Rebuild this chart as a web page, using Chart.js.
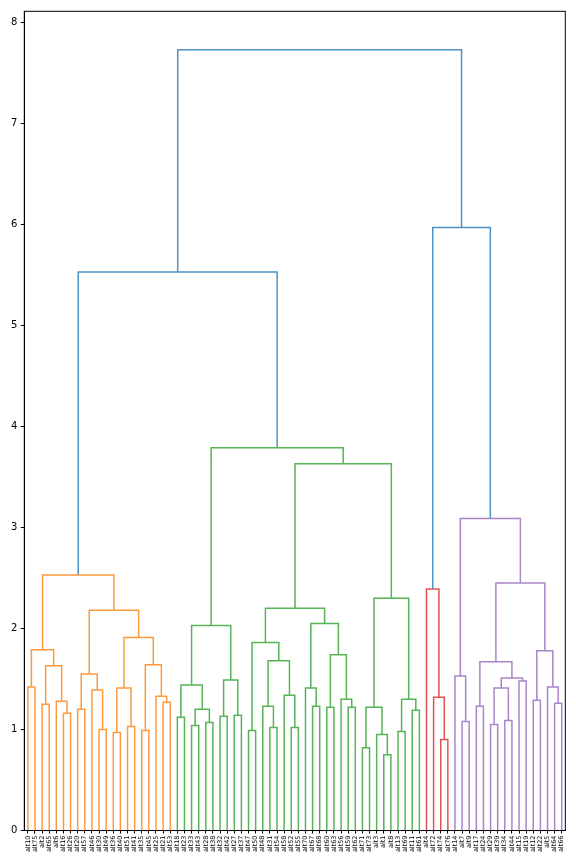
<!DOCTYPE html>
<html>
<head>
<meta charset="utf-8">
<script src="https://cdn.jsdelivr.net/npm/chart.js"></script>
<style>
  body { margin: 0; background: #fff; }
  #wrap { width: 576px; height: 864px; }
</style>
</head>
<body>
<div id="wrap"><canvas id="dendro"></canvas></div>
<script>
// leaves in the order they appear along the x axis
const leafLabels = [
    'alt10', 'alt75', 'alt2', 'alt65', 'alt6', 'alt16', 'alt26', 'alt20', 'alt57', 'alt46',
    'alt30', 'alt49', 'alt36', 'alt40', 'alt51', 'alt41', 'alt35', 'alt45', 'alt25', 'alt21',
    'alt53', 'alt18', 'alt23', 'alt33', 'alt43', 'alt28', 'alt38', 'alt32', 'alt42', 'alt27',
    'alt37', 'alt47', 'alt50', 'alt48', 'alt31', 'alt54', 'alt58', 'alt52', 'alt55', 'alt70',
    'alt67', 'alt68', 'alt60', 'alt63', 'alt56', 'alt59', 'alt62', 'alt71', 'alt73', 'alt3',
    'alt1', 'alt8', 'alt13', 'alt69', 'alt11', 'alt61', 'alt4', 'alt72', 'alt74', 'alt76',
    'alt14', 'alt7', 'alt9', 'alt17', 'alt24', 'alt29', 'alt39', 'alt34', 'alt44', 'alt15',
    'alt19', 'alt12', 'alt22', 'alt5', 'alt64', 'alt66'
];

// merges (leaves are 0..75, merge k makes node 76 + k)
const linkLeft = [
    0, 2, 5, 4, 77, 76, 7, 10, 9, 82, 12, 14, 86, 16, 19, 18, 89, 88, 85, 81,
    21, 23, 25, 97, 96, 27, 29, 101, 100, 31, 34, 33, 37, 36, 107, 105, 40, 39, 42, 45,
    44, 114, 113, 111, 47, 50, 49, 120, 52, 54, 124, 123, 119, 104,
    58, 57, 56,
    61, 60, 63, 65, 67, 136, 69, 138, 135, 71, 74, 73, 142, 141, 134,
    95, 132, 148
];
const linkRight = [
    1, 3, 6, 78, 79, 80, 8, 11, 83, 84, 13, 15, 87, 17, 20, 90, 91, 92, 93, 94,
    22, 24, 26, 98, 99, 28, 30, 102, 103, 32, 35, 106, 38, 108, 109, 110, 41, 112, 43, 46,
    115, 116, 117, 118, 48, 51, 121, 122, 53, 55, 125, 126, 127, 128,
    59, 130, 131,
    62, 133, 64, 66, 68, 137, 70, 139, 140, 72, 75, 143, 144, 145, 146,
    129, 147, 149
];
const linkHeight = [
    1.42, 1.25, 1.16, 1.28, 1.63, 1.79, 1.20, 1.00, 1.39, 1.55, 0.97, 1.03, 1.41, 0.99, 1.27, 1.33, 1.64, 1.91, 2.18, 2.53,
    1.12, 1.04, 1.07, 1.20, 1.44, 1.13, 1.14, 1.49, 2.03, 0.99, 1.02, 1.23, 1.02, 1.34, 1.68, 1.86, 1.23, 1.41, 1.22, 1.22,
    1.30, 1.74, 2.05, 2.20, 0.82, 0.75, 0.95, 1.22, 0.98, 1.19, 1.30, 2.30, 3.63, 3.79,
    0.90, 1.32, 2.39,
    1.08, 1.53, 1.23, 1.05, 1.09, 1.41, 1.48, 1.51, 1.67, 1.29, 1.26, 1.42, 1.78, 2.45, 3.09,
    5.53, 5.97, 7.73
];

const yTicks = [0, 1, 2, 3, 4, 5, 6, 7, 8];

const aboveColor = '#4c92c3';
const clusterColors = ['#ff993e', '#56b356', '#de5253', '#a985ca'];
const colorThreshold = 0.7 * Math.max(...linkHeight);

const n = leafLabels.length;
const nodeX = leafLabels.map((_, i) => 5 + 10 * i);
const nodeY = leafLabels.map(() => 0);
linkHeight.forEach((h, k) => {
    nodeX.push((nodeX[linkLeft[k]] + nodeX[linkRight[k]]) / 2);
    nodeY.push(h);
});

// colour each link: above threshold blue, below it by cluster, left to right
const linkColor = [];
let nextColor = 0;
function paint(node, color) {
    if (node < n) return;
    const k = node - n;
    let c = color;
    if (!c && linkHeight[k] < colorThreshold) c = clusterColors[nextColor++ % clusterColors.length];
    linkColor[k] = c || aboveColor;
    paint(linkLeft[k], c);
    paint(linkRight[k], c);
}
paint(n + linkHeight.length - 1, null);

const datasets = linkHeight.map((h, k) => {
    const a = linkLeft[k], b = linkRight[k];
    return {
        data: [
            { x: nodeX[a], y: nodeY[a] },
            { x: nodeX[a], y: h },
            { x: nodeX[b], y: h },
            { x: nodeX[b], y: nodeY[b] }
        ],
        borderColor: linkColor[k],
        borderWidth: 1.5,
        pointRadius: 0,
        fill: false,
        tension: 0,
        borderJoinStyle: 'miter'
    };
});

const frame = {
    id: 'frame',
    afterDraw(chart) {
        const { ctx, chartArea: a } = chart;
        ctx.save();
        ctx.strokeStyle = '#000';
        ctx.lineWidth = 1;
        ctx.strokeRect(a.left, a.top, a.right - a.left, a.bottom - a.top);
        ctx.restore();
    }
};

new Chart(document.getElementById('dendro').getContext('2d'), {
    type: 'line',
    data: { datasets },
    options: {
        responsive: true,
        maintainAspectRatio: false,
        animation: false,
        layout: { padding: { top: 11.3, right: 10.7, left: 0, bottom: 0 } },
        plugins: { legend: { display: false }, tooltip: { enabled: false } },
        scales: {
            x: {
                type: 'linear',
                min: 0,
                max: 10 * n,
                afterBuildTicks: scale => { scale.ticks = nodeX.slice(0, n).map(v => ({ value: v })); },
                afterFit: scale => { scale.height = 33.5; },
                grid: { drawOnChartArea: false, color: '#000', tickLength: 3 },
                border: { color: '#000' },
                ticks: {
                    autoSkip: false,
                    minRotation: 90,
                    maxRotation: 90,
                    padding: 2,
                    color: '#000',
                    font: { family: 'DejaVu Sans', size: 6.5 },
                    callback: (value, index) => leafLabels[index]
                }
            },
            y: {
                min: 0,
                max: 8.11,
                afterBuildTicks: scale => { scale.ticks = yTicks.map(v => ({ value: v })); },
                afterFit: scale => { scale.width = 24.3; },
                grid: { drawOnChartArea: false, color: '#000', tickLength: 3.5 },
                border: { color: '#000' },
                ticks: {
                    padding: 3.5,
                    color: '#000',
                    font: { family: 'DejaVu Sans', size: 10 },
                    callback: v => v
                }
            }
        }
    },
    plugins: [frame]
});
</script>
</body>
</html>
